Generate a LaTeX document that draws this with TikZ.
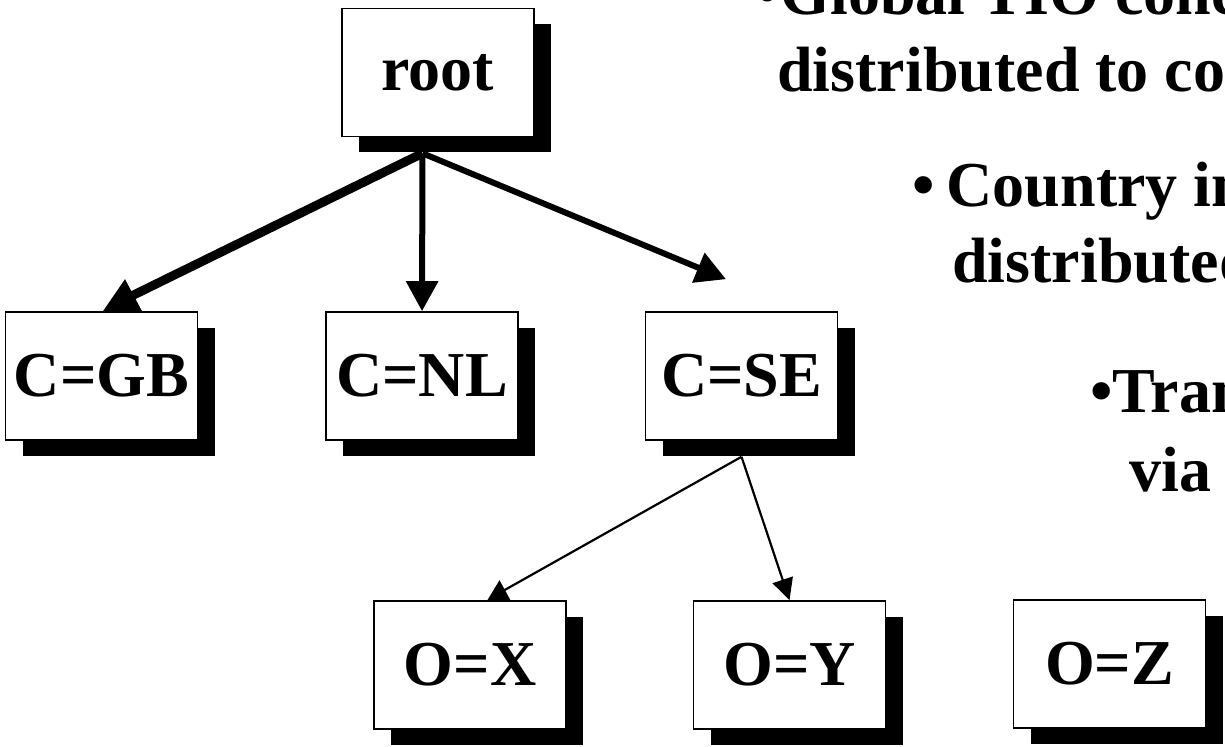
\documentclass[tikz,border=0pt]{standalone}
\usepackage{fontspec}
\setmainfont{Liberation Serif}
\usetikzlibrary{arrows.meta,shadows}

\begin{document}
\begin{tikzpicture}[x=0.5pt,y=-0.5pt,
    dirbox/.style={draw,line width=0.8pt,fill=white,minimum width=96pt,minimum height=64pt,inner sep=0pt,
      font=\bfseries\fontsize{32}{36}\selectfont,
      general shadow={fill=black,shadow xshift=8.5pt,shadow yshift=-8pt}},
    bigarrow/.style={line width=3pt,-{Triangle[length=15pt,width=15.5pt]}},
    fatline/.style={line width=4.5pt},
    thinarrow/.style={line width=1.1pt,-{Triangle[length=10.75pt,width=10.5pt]}},
    slidetext/.style={anchor=base west,inner sep=0pt,font=\bfseries\fontsize{32}{36}\selectfont}]
    \useasboundingbox (0,0) rectangle (1225,747);
    \clip (0,0) rectangle (1225,747);

    % directory tree
    \node[dirbox] (root) at (438,72.5) {root};
    \node[dirbox] (GB) at (101.5,376) {C=GB};
    \node[dirbox] (NL) at (422,376) {C=NL};
    \node[dirbox] (SE) at (741.5,376) {C=SE};
    \node[dirbox] (OX) at (470,665) {O=X};
    \node[dirbox] (OY) at (789.5,665) {O=Y};
    \node[dirbox] (OZ) at (1109.5,664) {O=Z};

    \coordinate (rootfoot) at ([xshift=-7.75pt,yshift=-8pt]root.south);
    \coordinate (SEfoot) at ([yshift=-8pt]SE.south);

    \draw[bigarrow] (rootfoot) -- (NL.north);
    \draw[bigarrow] (rootfoot) -- ([xshift=-7.75pt,yshift=16pt]SE.north);
    \draw[fatline] (rootfoot) -- ([xshift=10.75pt,yshift=5.5pt]GB.north);
    \fill ([xshift=11.75pt,yshift=16pt]GB.north) -- ([xshift=0.75pt]GB.north) -- ([xshift=20.25pt]GB.north) -- cycle;

    \draw[thinarrow] (SEfoot) -- (OY.north);
    \draw[line width=1.1pt] (SEfoot) -- ([xshift=14.5pt,yshift=3.5pt]OX.north);
    \fill ([xshift=14.75pt,yshift=10pt]OX.north) -- ([xshift=8.7pt]OX.north) -- ([xshift=20.25pt]OX.north) -- cycle;

    % bullet text, cut by the right edge
    \node[slidetext] (glob1) at (756,15) {\textbullet\hspace{1pt}Global TIO conc};
    \node[slidetext] (glob2) at (777,92) {distributed to co};
    \node[slidetext] (ctry1) at (912,207) {\textbullet\hspace{6pt}Country in};
    \node[slidetext] (ctry2) at (952,283) {distributed};
    \node[slidetext] (tra1) at (1090,413) {\textbullet Tran};
    \node[slidetext] (tra2) at (1129,492) {via};
\end{tikzpicture}
\end{document}
